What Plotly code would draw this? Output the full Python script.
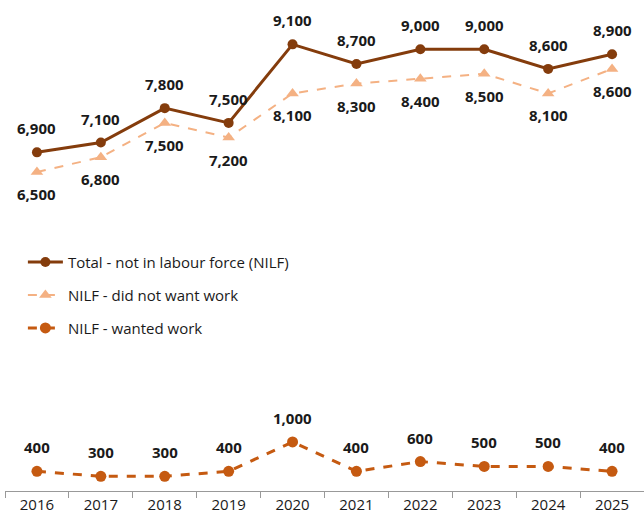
import plotly.graph_objects as go

years = ["2016", "2017", "2018", "2019", "2020", "2021", "2022", "2023", "2024", "2025"]
total_nilf = [6900, 7100, 7800, 7500, 9100, 8700, 9000, 9000, 8600, 8900]
did_not_want = [6500, 6800, 7500, 7200, 8100, 8300, 8400, 8500, 8100, 8600]
wanted_work = [400, 300, 300, 400, 1000, 400, 600, 500, 500, 400]

LABEL_FONT = dict(family="Open Sans", size=15, color="#1a1a1a", weight="bold")

fig = go.Figure()
fig.add_trace(go.Scatter(
    x=years, y=total_nilf, name="Total - not in labour force (NILF)",
    mode="lines+markers", legendgroup="a",
    line=dict(color="#843C0C", width=3),
    marker=dict(symbol="circle", size=10, color="#843C0C"),
))
fig.add_trace(go.Scatter(
    x=years, y=did_not_want, name="NILF - did not want work",
    mode="lines+markers", legendgroup="b",
    line=dict(color="#F4B183", width=2, dash="dash"),
    marker=dict(symbol="triangle-up", size=11, color="#F4B183"),
))
fig.add_trace(go.Scatter(
    x=years, y=wanted_work, name="NILF - wanted work",
    mode="lines+markers", legendgroup="c",
    line=dict(color="#C55A11", width=3, dash="dash"),
    marker=dict(symbol="circle", size=11, color="#C55A11"),
))

for series, shift in ((total_nilf, 24), (did_not_want, -22), (wanted_work, 24)):
    for i, v in enumerate(series):
        fig.add_annotation(x=i, y=v, xref="x", yref="y", text=f"{v:,}",
                           showarrow=False, yshift=shift, font=LABEL_FONT)

fig.update_layout(
    width=644, height=521,
    margin=dict(l=5, r=0, t=10, b=30),
    paper_bgcolor="white", plot_bgcolor="white",
    font=dict(family="Open Sans", size=13, color="#1a1a1a"),
    showlegend=True,
    legend=dict(x=0.028, y=0.51, xanchor="left", yanchor="top",
                bgcolor="rgba(0,0,0,0)", tracegroupgap=10.5, itemwidth=35,
                font=dict(family="Open Sans", size=15, color="#1a1a1a")),
    xaxis=dict(type="category", range=[-0.5, 9.5], showgrid=False,
               showline=True, linecolor="#999999", linewidth=1,
               ticks="outside", tickson="boundaries", ticklen=6, tickcolor="#999999",
               tickfont=dict(family="Open Sans", size=15, color="#1a1a1a")),
    yaxis=dict(range=[0, 9800], visible=False, showgrid=False, zeroline=False),
)

fig.write_html("out.html", config={"displayModeBar": False},
               post_script="document.body.style.margin='0px';")
